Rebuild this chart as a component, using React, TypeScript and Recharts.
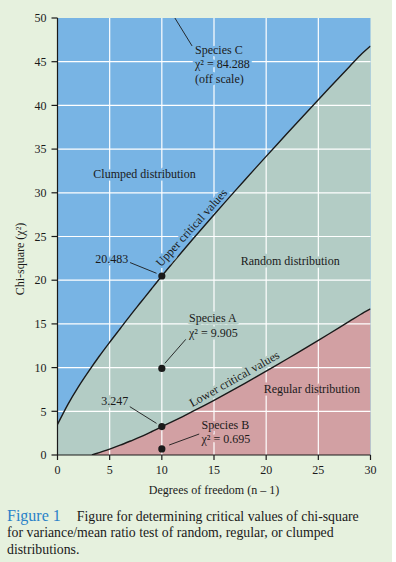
import {
  Area,
  ComposedChart,
  Label,
  Line,
  ReferenceDot,
  ReferenceLine,
  Scatter,
  XAxis,
  YAxis,
  CartesianGrid,
} from 'recharts';

// critical values of chi-square
const upperDf = [0, 1, 2, 3, 4, 5, 6, 7, 8, 9, 10, 11, 12, 13, 14, 15, 16, 17, 18, 19, 20, 21, 22, 23, 24, 25, 26, 27, 28, 29, 30];
const upperChi = [
  3.5, 5.8, 7.8, 9.6, 11.3, 12.9, 14.45, 16.0, 17.5, 19.0, 20.483, 21.92, 23.337, 24.736, 26.119, 27.488,
  28.845, 30.191, 31.526, 32.852, 34.17, 35.479, 36.781, 38.076, 39.364, 40.646, 41.923, 43.195, 44.461, 45.722, 46.8,
];
const lowerDf = [3.3, 4, 5, 6, 7, 8, 9, 10, 11, 12, 13, 14, 15, 16, 17, 18, 19, 20, 21, 22, 23, 24, 25, 26, 27, 28, 29, 30];
const lowerChi = [
  0, 0.28, 0.68, 1.12, 1.6, 2.1, 2.66, 3.247, 3.816, 4.404, 5.009, 5.629, 6.262, 6.908, 7.564, 8.231, 8.907,
  9.591, 10.283, 10.982, 11.689, 12.401, 13.12, 13.844, 14.573, 15.308, 16.047, 16.72,
];

const speciesDf = [10, 10, 10, 10];
const speciesChi = [20.483, 9.905, 3.247, 0.695];

const xTicks = [0, 5, 10, 15, 20, 25, 30];
const yTicks = [0, 5, 10, 15, 20, 25, 30, 35, 40, 45, 50];

const dfValues = Array.from(new Set([...upperDf, ...lowerDf])).sort((a, b) => a - b);
const table = dfValues.map((df) => {
  const u = upperDf.indexOf(df);
  const l = lowerDf.indexOf(df);
  return { df, upper: u >= 0 ? upperChi[u] : undefined, lower: l >= 0 ? lowerChi[l] : undefined };
});
const points = speciesDf.map((df, i) => ({ df, chi: speciesChi[i] }));

const BG = '#e6f1de';
const BLUE = '#78b4e4';
const GREY = '#b3ccc5';
const PINK = '#d2a0a3';
const INK = '#1a1a1a';
const FONT = '"Liberation Serif", "DejaVu Serif", serif';

type Note = {
  x: number;
  y: number;
  lines: string[];
  anchor: 'start' | 'middle' | 'end';
  knock: string;
  angle?: number;
  gap?: number;
};

const notes: Note[] = [
  { x: 13.18, y: 45.9, lines: ['Species C', 'χ² = 84.288', '(off scale)'], anchor: 'start', knock: BLUE, gap: 14.4 },
  { x: 8.34, y: 31.75, lines: ['Clumped distribution'], anchor: 'middle', knock: BLUE },
  { x: 13.13, y: 25.7, lines: ['Upper critical values'], anchor: 'middle', knock: BLUE, angle: -48 },
  { x: 6.77, y: 22.0, lines: ['20.483'], anchor: 'end', knock: BLUE },
  { x: 22.3, y: 21.7, lines: ['Random distribution'], anchor: 'middle', knock: GREY },
  { x: 12.6, y: 15.25, lines: ['Species A', 'χ² = 9.905'], anchor: 'start', knock: GREY, gap: 15 },
  { x: 17.14, y: 8.31, lines: ['Lower critical values'], anchor: 'middle', knock: GREY, angle: -29.5 },
  { x: 24.38, y: 7.05, lines: ['Regular distribution'], anchor: 'middle', knock: PINK },
  { x: 6.77, y: 5.72, lines: ['3.247'], anchor: 'end', knock: GREY },
  { x: 13.8, y: 2.97, lines: ['Species B', 'χ² = 0.695'], anchor: 'start', knock: PINK, gap: 14.3 },
];

const leaders = [
  [{ x: 11.25, y: 50 }, { x: 12.9, y: 46.8 }],
  [{ x: 6.93, y: 22.03 }, { x: 9.49, y: 20.79 }],
  [{ x: 12.3, y: 13.24 }, { x: 10.29, y: 10.49 }],
  [{ x: 6.93, y: 5.53 }, { x: 9.49, y: 3.62 }],
  [{ x: 13.58, y: 2.4 }, { x: 10.7, y: 1.14 }],
];

function noteShape(n: Note) {
  return (p: any) => {
    const { cx, cy } = p;
    return (
      <text
        x={cx}
        y={cy}
        textAnchor={n.anchor}
        fontFamily={FONT}
        fontSize={12}
        fill={INK}
        stroke={n.knock}
        strokeWidth={5}
        strokeLinejoin="round"
        paintOrder="stroke"
        transform={n.angle ? `rotate(${n.angle} ${cx} ${cy})` : undefined}
      >
        {n.lines.map((t, i) => (
          <tspan key={i} x={cx} dy={i === 0 ? 0 : n.gap}>
            {t}
          </tspan>
        ))}
      </text>
    );
  };
}

const YTitle = (props: any) => {
  const { x, y, height } = props.viewBox;
  const cx = x + 23.5;
  const cy = y + height / 2 + 22.5;
  return (
    <text x={cx} y={cy} textAnchor="middle" fontFamily={FONT} fontSize={12} fill={INK} transform={`rotate(-90 ${cx} ${cy})`}>
      Chi-square (χ²)
    </text>
  );
};

const XTitle = (props: any) => {
  const { x, y, width } = props.viewBox;
  return (
    <text x={x + width / 2} y={y + 38.5} textAnchor="middle" fontFamily={FONT} fontSize={12} fill={INK}>
      Degrees of freedom (n – 1)
    </text>
  );
};

const Dot = (p: any) => <circle cx={p.cx} cy={p.cy} r={3.6} fill={INK} />;

export default function App() {
  const tick = { fontFamily: FONT, fontSize: 12, fill: INK };
  return (
    <div style={{ position: 'absolute', left: 0, top: 0, width: 392, height: 562, background: BG }}>
      <ComposedChart width={392} height={505} data={table} margin={{ top: 18, right: 21.5, left: 0.5, bottom: 0 }}>
        <CartesianGrid fill={BLUE} stroke="none" horizontal={false} vertical={false} />
        <XAxis
          dataKey="df"
          type="number"
          domain={[0, 30]}
          ticks={xTicks}
          height={50}
          allowDataOverflow
          axisLine={{ stroke: INK, strokeWidth: 1.2 }}
          tickLine={{ stroke: INK, strokeWidth: 1.2 }}
          tickSize={5}
          tickMargin={5}
          tick={tick}
          label={<Label content={XTitle} />}
        />
        <YAxis
          type="number"
          domain={[0, 50]}
          ticks={yTicks}
          width={57}
          allowDataOverflow
          axisLine={{ stroke: INK, strokeWidth: 1.2 }}
          tickLine={{ stroke: INK, strokeWidth: 1.2 }}
          tickSize={6}
          tickMargin={5}
          tick={tick}
          label={<Label content={YTitle} />}
        />
        <Area dataKey="upper" type="monotone" fill={GREY} fillOpacity={1} stroke="none" connectNulls isAnimationActive={false} />
        <Area dataKey="lower" type="monotone" fill={PINK} fillOpacity={1} stroke="none" connectNulls isAnimationActive={false} />
        {xTicks.slice(1, -1).map((v) => (
          <ReferenceLine key={'x' + v} x={v} stroke="#ffffff" strokeWidth={1.2} />
        ))}
        {yTicks.slice(1, -1).map((v) => (
          <ReferenceLine key={'y' + v} y={v} stroke="#ffffff" strokeWidth={1.2} />
        ))}
        <Line dataKey="upper" type="monotone" stroke={INK} strokeWidth={1.4} dot={false} connectNulls isAnimationActive={false} />
        <Line dataKey="lower" type="monotone" stroke={INK} strokeWidth={1.4} dot={false} connectNulls isAnimationActive={false} />
        {notes.map((n, i) => (
          <ReferenceDot key={'n' + i} x={n.x} y={n.y} r={0} ifOverflow="visible" shape={noteShape(n)} />
        ))}
        {leaders.map((seg, i) => (
          <ReferenceLine key={'l' + i} segment={seg} stroke={INK} strokeWidth={0.9} ifOverflow="visible" />
        ))}
        <Scatter data={points} dataKey="chi" shape={Dot} isAnimationActive={false} />
      </ComposedChart>
      <div
        style={{
          position: 'absolute',
          left: 7,
          top: 507.5,
          fontFamily: FONT,
          fontSize: 13.8,
          lineHeight: '16.7px',
          color: INK,
          whiteSpace: 'nowrap',
        }}
      >
        <span style={{ color: '#2a82c8', fontSize: 16, marginRight: 16 }}>Figure 1</span>
        Figure for determining critical values of chi-square
        <br />
        for variance/mean ratio test of random, regular, or clumped
        <br />
        distributions.
      </div>
    </div>
  );
}
